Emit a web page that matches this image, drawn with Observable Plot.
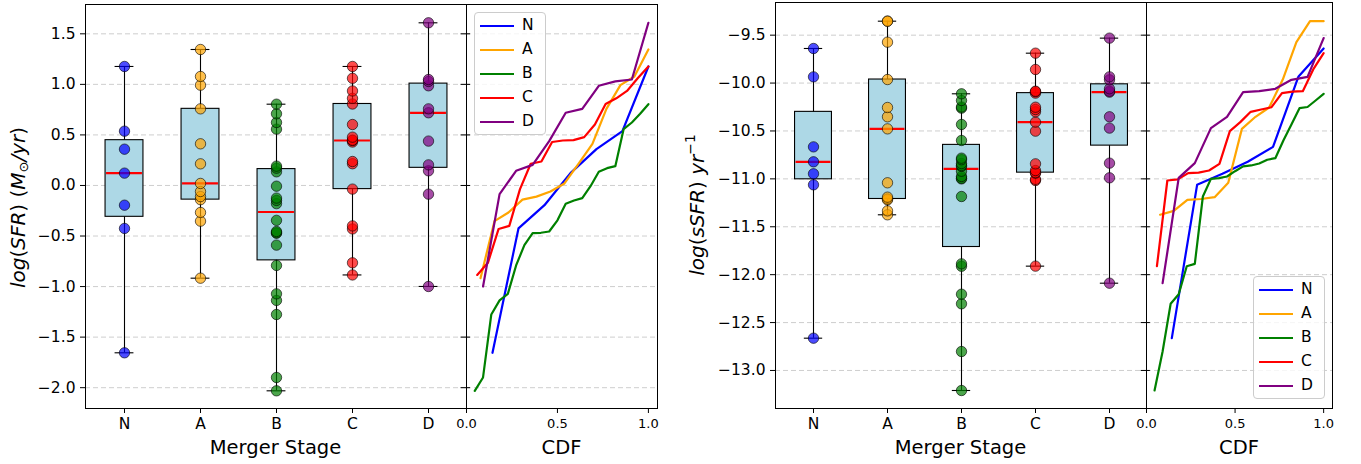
<!DOCTYPE html>
<html><head><meta charset="utf-8">
<script src="https://cdn.jsdelivr.net/npm/d3@7"></script>
<script src="https://cdn.jsdelivr.net/npm/@observablehq/plot@0.6"></script>
<style>
body{margin:0;background:#fff;}
#fig{position:relative;width:1361px;height:464px;font-family:"DejaVu Sans",sans-serif;overflow:hidden;}
#fig > svg{position:absolute;top:0;overflow:visible;}
.legend{position:absolute;background:rgba(255,255,255,0.8);border:1px solid #cccccc;border-radius:4px;box-sizing:border-box;font-family:"DejaVu Sans",sans-serif;font-size:15.5px;}
.legend .row{position:absolute;left:0;height:24px;width:100%;}
.legend .sw{position:absolute;left:5px;top:11px;width:34px;height:0;border-top:2.2px solid;}
.legend .lb{position:absolute;left:47px;top:1px;line-height:21px;}
</style></head><body><div id="fig"></div>
<script>
// ---- data ----
const stages = ["N", "A", "B", "C", "D"];
const stageColors = ["blue", "orange", "green", "red", "purple"];

const sfrN = [-1.655, -0.425, -0.195, 0.122, 0.359, 0.537, 1.177];
const sfrA = [-0.917, -0.353, -0.267, -0.14, -0.11, -0.06, 0.02, 0.214, 0.412, 0.758, 0.992, 1.078, 1.345];
const sfrB = [-2.031, -1.899, -1.276, -1.137, -1.072, -0.791, -0.59, -0.472, -0.468, -0.455, -0.345, -0.18, -0.148, -0.125, -0.007, 0.135, 0.171, 0.191, 0.557, 0.623, 0.709, 0.804];
const sfrC = [-0.885, -0.765, -0.43, -0.40, -0.036, 0.215, 0.237, 0.43, 0.445, 0.448, 0.478, 0.603, 0.806, 0.862, 0.935, 1.06, 1.177];
const sfrD = [-0.999, -0.086, 0.145, 0.204, 0.439, 0.719, 0.758, 0.986, 1.029, 1.048, 1.609];

const ssfrN = [-12.663, -11.062, -10.947, -10.822, -10.666, -9.935, -9.639];
const ssfrA = [-11.375, -11.334, -11.219, -11.21, -11.191, -11.041, -10.478, -10.352, -10.255, -9.963, -9.573, -9.354, -9.354];
const ssfrB = [-13.209, -12.802, -12.304, -12.204, -11.912, -11.887, -11.184, -11.0, -10.993, -10.975, -10.92, -10.87, -10.86, -10.84, -10.80, -10.784, -10.599, -10.432, -10.262, -10.25, -10.182, -10.112];
const ssfrC = [-11.911, -11.017, -11.005, -10.94, -10.935, -10.913, -10.843, -10.502, -10.408, -10.30, -10.276, -10.252, -10.105, -10.09, -10.085, -9.858, -9.688];
const ssfrD = [-12.089, -10.989, -10.836, -10.47, -10.352, -10.095, -10.085, -10.06, -9.966, -9.935, -9.531];

const sfrTicks = [-2.0, -1.5, -1.0, -0.5, 0.0, 0.5, 1.0, 1.5];
const ssfrTicks = [-13.0, -12.5, -12.0, -11.5, -11.0, -10.5, -10.0, -9.5];
const cdfTicks = [0.0, 0.5, 1.0];

// ---- helpers ----
const H = 464, BOTTOM = 56;
const fmt = d3.format(".1f");
const gridStyle = {stroke: "#c8c8c8", strokeDasharray: "5,3", strokeWidth: 0.9};

function buildRows(groups) {
  return groups.flatMap((vals, i) => vals.map(v => ({stage: stages[i], v, color: stageColors[i]})));
}
function buildStats(groups) {
  return groups.map((vals, i) => {
    const s = vals.slice().sort(d3.ascending);
    return {stage: stages[i], min: s[0], q1: d3.quantile(s, 0.25), med: d3.quantile(s, 0.5), q3: d3.quantile(s, 0.75), max: s[s.length - 1]};
  });
}
function buildCdf(groups) {
  return groups.flatMap((vals, i) => {
    const s = vals.slice().sort(d3.ascending);
    return s.map((v, k) => ({stage: stages[i], p: (k + 1) / s.length, v, color: stageColors[i]}));
  });
}

function boxPanel(groups, yDomain, yTicks, width, marginTop) {
  const bw = (width - 85) / stages.length;
  const rows = buildRows(groups), stats = buildStats(groups);
  return Plot.plot({
    width, height: H, marginLeft: 85, marginRight: 0, marginTop, marginBottom: BOTTOM,
    style: {fontFamily: "DejaVu Sans", fontSize: "15.5px", background: "transparent", overflow: "visible", color: "black"},
    x: {type: "band", domain: stages, padding: 0, label: null, tickSize: 5, tickPadding: 4},
    y: {domain: yDomain, ticks: yTicks, tickFormat: fmt, label: null, tickSize: 5, tickPadding: 5},
    color: {type: "identity"},
    marks: [
      Plot.ruleY(yTicks, gridStyle),
      Plot.ruleX(stats, {x: "stage", y1: "min", y2: "max", stroke: "black", strokeWidth: 1.1}),
      Plot.barY(stats, {x: "stage", y1: "q1", y2: "q3", fill: "#add8e6", stroke: "black", strokeWidth: 1.1, insetLeft: bw * 0.25, insetRight: bw * 0.25}),
      Plot.tickY(stats, {x: "stage", y: "min", stroke: "black", strokeWidth: 1.1, insetLeft: bw * 0.375, insetRight: bw * 0.375}),
      Plot.tickY(stats, {x: "stage", y: "max", stroke: "black", strokeWidth: 1.1, insetLeft: bw * 0.375, insetRight: bw * 0.375}),
      Plot.tickY(stats, {x: "stage", y: "med", stroke: "red", strokeWidth: 2.2, insetLeft: bw * 0.25 + 1, insetRight: bw * 0.25 + 1}),
      Plot.dot(rows, {x: "stage", y: "v", r: 5.2, fill: "color", fillOpacity: 0.7, stroke: "black", strokeOpacity: 0.6, strokeWidth: 1}),
      Plot.frame({stroke: "black", strokeWidth: 1})
    ]
  });
}

function cdfPanel(groups, yDomain, yTicks, width, marginTop) {
  const cdf = buildCdf(groups);
  return Plot.plot({
    width, height: H, marginLeft: 0, marginRight: 0, marginTop, marginBottom: BOTTOM,
    style: {fontFamily: "DejaVu Sans", fontSize: "13px", background: "transparent", overflow: "visible", color: "black"},
    x: {domain: [0, 1.05], ticks: cdfTicks, tickFormat: fmt, label: null, tickSize: 5, tickPadding: 5},
    y: {domain: yDomain, axis: null},
    color: {type: "identity"},
    marks: [
      Plot.ruleY(yTicks, gridStyle),
      Plot.ruleY(yTicks, {x1: -0.03, x2: 0.022, stroke: "black", strokeWidth: 1}),
      Plot.line(cdf, {x: "p", y: "v", z: "stage", stroke: "color", strokeWidth: 2.2}),
      Plot.frame({stroke: "black", strokeWidth: 1})
    ]
  });
}

const fig = document.getElementById("fig");
function place(svg, left) { svg.style.left = left + "px"; fig.appendChild(svg); }

const sfrGroups = [sfrN, sfrA, sfrB, sfrC, sfrD];
const ssfrGroups = [ssfrN, ssfrA, ssfrB, ssfrC, ssfrD];
const sfrDomain = [-2.206, 1.790];
const ssfrDomain = [-13.397, -9.159];

place(boxPanel(sfrGroups, sfrDomain, sfrTicks, 466, 4), 0);
place(cdfPanel(sfrGroups, sfrDomain, sfrTicks, 191, 4), 466);
place(boxPanel(ssfrGroups, ssfrDomain, ssfrTicks, 456, 2), 690);
place(cdfPanel(ssfrGroups, ssfrDomain, ssfrTicks, 186, 2), 1146);

// ---- legends ----
function legend(left, top) {
  const div = document.createElement("div");
  div.className = "legend";
  div.style.left = left + "px"; div.style.top = top + "px";
  div.style.width = "72px"; div.style.height = "123px";
  stages.forEach((s, i) => {
    const row = document.createElement("div");
    row.className = "row"; row.style.top = (1 + i * 24) + "px";
    row.innerHTML = `<div class="sw" style="border-color:${stageColors[i]}"></div><div class="lb">${s}</div>`;
    div.appendChild(row);
  });
  fig.appendChild(div);
}
legend(474, 12);
legend(1253, 276);

// ---- axis titles (real text) ----
const ov = d3.select(fig).append("svg")
  .attr("width", 1361).attr("height", H)
  .style("left", "0px").style("pointer-events", "none")
  .attr("font-family", "DejaVu Sans");

const AX = 19.5;
ov.append("text").attr("x", 275.5).attr("y", 454).attr("text-anchor", "middle").attr("font-size", AX).text("Merger Stage");
ov.append("text").attr("x", 960.5).attr("y", 454).attr("text-anchor", "middle").attr("font-size", AX).text("Merger Stage");
ov.append("text").attr("x", 561.5).attr("y", 454).attr("text-anchor", "middle").attr("font-size", AX).text("CDF");
ov.append("text").attr("x", 1239).attr("y", 454).attr("text-anchor", "middle").attr("font-size", AX).text("CDF");

const yl = ov.append("text").attr("transform", "translate(25,207.5) rotate(-90)").attr("text-anchor", "middle").attr("font-size", 20);
yl.append("tspan").attr("font-style", "italic").text("log");
yl.append("tspan").text("(");
yl.append("tspan").attr("font-style", "italic").text("SFR");
yl.append("tspan").text(") (");
yl.append("tspan").attr("font-style", "italic").text("M");
yl.append("tspan").attr("font-size", 13).attr("dy", 3).text("⊙");
yl.append("tspan").attr("dy", -3).attr("font-style", "italic").text("/yr");
yl.append("tspan").text(")");

const yr = ov.append("text").attr("transform", "translate(704,205) rotate(-90)").attr("text-anchor", "middle").attr("font-size", 20);
yr.append("tspan").attr("font-style", "italic").text("log");
yr.append("tspan").text("(");
yr.append("tspan").attr("font-style", "italic").text("sSFR");
yr.append("tspan").text(") ");
yr.append("tspan").attr("font-style", "italic").text("yr");
yr.append("tspan").attr("font-size", 14).attr("dy", -9).text("−1");
</script>
</body></html>
